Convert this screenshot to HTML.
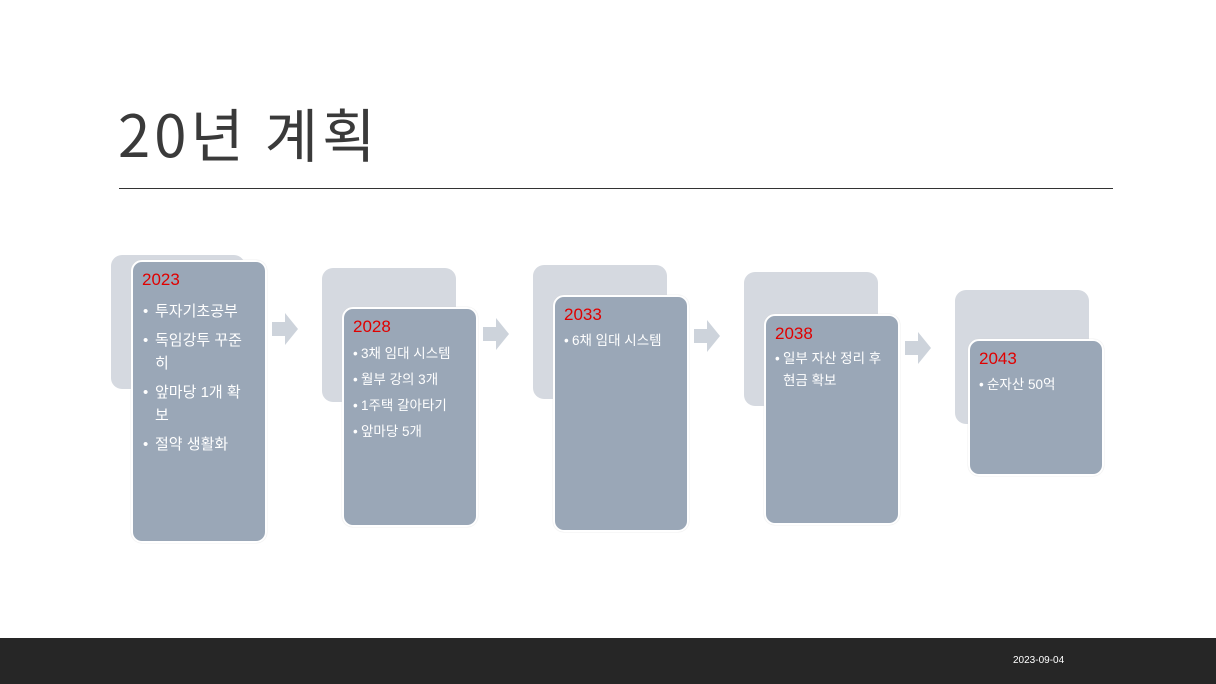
<!DOCTYPE html>
<html><head><meta charset="utf-8"><style>
*{margin:0;padding:0;box-sizing:border-box}
body{width:1216px;height:684px;background:#fff;position:relative;overflow:hidden;font-family:"Liberation Sans","Noto Sans CJK KR",sans-serif}
.t{position:absolute;left:118px;top:92px;font-size:58px;color:#3a3a3a;letter-spacing:4px;line-height:80px;font-family:"Noto Sans CJK KR",sans-serif;font-weight:400}
.hr{position:absolute;left:119px;top:188px;width:994px;height:1px;background:#333}
.bk{position:absolute;width:134px;height:134px;background:#d5d9e0;border-radius:11px}
.fr{position:absolute;width:136px;background:#9aa7b7;border:2px solid #fff;border-radius:11px;padding:6px 8px 0 9px;color:#fff;box-shadow:0 0 1px #ccc}
.y{color:#e00000;font-size:17px;line-height:24px;margin-bottom:2px}
.b{font-size:14px;line-height:24px;padding-left:13px;position:relative;font-family:"Liberation Sans","Noto Sans CJK KR",sans-serif}
.b:before{content:"•";position:absolute;left:1px}
.s .b{font-size:13.5px;padding-left:8px}
.s .b:before{left:0}
.big .b{font-size:15px;line-height:23px;padding-left:13px;padding-right:14px;margin-top:6px}
.ar{position:absolute;width:26px;height:32px}
.ft{position:absolute;left:0;top:638px;width:1216px;height:46px;background:#262626}
.dt{position:absolute;left:1013px;top:655px;font-size:10px;color:#fff}
</style></head><body>
<div class="t">20년 계획</div>
<div class="hr"></div>

<div class="bk" style="left:111px;top:255px"></div>
<div class="fr big" style="left:131px;top:260px;height:283px"><div class="y">2023</div>
<div class="b" style="margin-top:8px">투자기초공부</div><div class="b">독임강투 꾸준히</div><div class="b">앞마당 1개 확보</div><div class="b">절약 생활화</div></div>

<div class="bk" style="left:322px;top:268px"></div>
<div class="fr s" style="left:342px;top:307px;height:220px"><div class="y">2028</div>
<div class="b" style="line-height:26px">3채 임대 시스템</div><div class="b" style="line-height:26px">월부 강의 3개</div><div class="b" style="line-height:26px">1주택 갈아타기</div><div class="b" style="line-height:26px">앞마당 5개</div></div>

<div class="bk" style="left:533px;top:265px"></div>
<div class="fr s" style="left:553px;top:295px;height:237px"><div class="y">2033</div>
<div class="b">6채 임대 시스템</div></div>

<div class="bk" style="left:744px;top:272px"></div>
<div class="fr s" style="left:764px;top:314px;height:211px"><div class="y">2038</div>
<div class="b" style="margin-top:2px;line-height:22px">일부 자산 정리 후 현금 확보</div></div>

<div class="bk" style="left:955px;top:290px"></div>
<div class="fr s" style="left:968px;top:339px;height:137px"><div class="y">2043</div>
<div class="b">순자산 50억</div></div>

<svg class="ar" style="left:272px;top:313px" viewBox="0 0 26 32"><path d="M0 9H13V0L26 16L13 32V23H0Z" fill="#cdd3db"/></svg>
<svg class="ar" style="left:483px;top:318px" viewBox="0 0 26 32"><path d="M0 9H13V0L26 16L13 32V23H0Z" fill="#cdd3db"/></svg>
<svg class="ar" style="left:694px;top:320px" viewBox="0 0 26 32"><path d="M0 9H13V0L26 16L13 32V23H0Z" fill="#cdd3db"/></svg>
<svg class="ar" style="left:905px;top:332px" viewBox="0 0 26 32"><path d="M0 9H13V0L26 16L13 32V23H0Z" fill="#cdd3db"/></svg>

<div class="ft"></div>
<div class="dt">2023-09-04</div>
</body></html>
